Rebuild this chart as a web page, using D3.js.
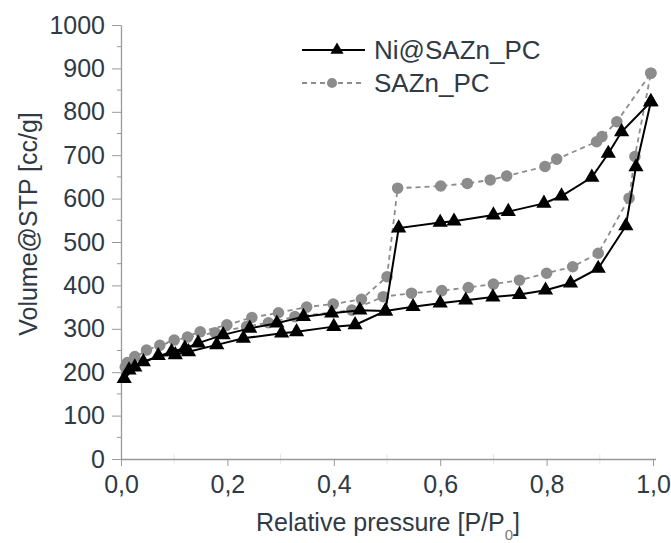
<!DOCTYPE html>
<html>
<head>
  <title>Isotherm</title>
  <script src="https://d3js.org/d3.v7.min.js"></script>
  <style>
    body { margin: 0; background: #fff; }
    text { font-family: "Liberation Sans", Arial, sans-serif; fill: #2f3a45; }
  </style>
</head>
<body>
  <svg id="chart" width="671" height="543"></svg>
  <script>
    // Ni@SAZn_PC, adsorption then desorption branch
    const niAdsP = [0.006, 0.026, 0.07, 0.102, 0.127, 0.18, 0.23, 0.302, 0.33, 0.40, 0.44, 0.497, 0.549, 0.60, 0.648, 0.699, 0.749, 0.798, 0.845, 0.897, 0.949, 0.968, 0.996]
    const niAdsV = [185, 212, 238, 240, 247, 263, 278, 290, 293, 305, 309, 341, 351, 359, 366, 373, 379, 389, 405, 439, 537, 673, 823]
    const niDesP = [0.996, 0.941, 0.916, 0.885, 0.828, 0.795, 0.728, 0.70, 0.626, 0.60, 0.522, 0.497, 0.449, 0.396, 0.343, 0.293, 0.242, 0.192, 0.145, 0.12, 0.095, 0.042, 0.015]
    const niDesV = [823, 754, 704, 649, 606, 589, 570, 562, 548, 545, 532, 341, 343, 336, 328, 313, 301, 286, 267, 255, 247, 224, 205]

    // SAZn_PC
    const saAdsP = [0.008, 0.026, 0.073, 0.125, 0.177, 0.236, 0.277, 0.327, 0.434, 0.493, 0.546, 0.603, 0.653, 0.70, 0.749, 0.80, 0.849, 0.897, 0.955, 0.966, 0.996]
    const saAdsV = [212, 236, 262, 281, 291, 305, 314, 328, 343, 374, 382, 388, 395, 403, 412, 428, 443, 474, 601, 697, 889]
    const saDesP = [0.996, 0.932, 0.904, 0.894, 0.819, 0.797, 0.725, 0.694, 0.651, 0.601, 0.52, 0.50, 0.452, 0.399, 0.349, 0.296, 0.246, 0.199, 0.149, 0.10, 0.048, 0.012]
    const saDesV = [889, 777, 743, 731, 691, 674, 652, 643, 635, 629, 624, 420, 368, 357, 350, 337, 326, 309, 293, 274, 251, 222]

    const xTicks = [0, 0.2, 0.4, 0.6, 0.8, 1.0]
    const yTicks = [0, 100, 200, 300, 400, 500, 600, 700, 800, 900, 1000]

    function pairs(p, v) {
      return p.map((d, i) => ({p: d, v: v[i]}))
    }

    const series = [
      {name: "SAZn_PC", pts: pairs(saAdsP, saAdsV).concat(pairs(saDesP, saDesV)),
       color: "#8c8c8c", dash: "5,4", width: 1.8, symbol: d3.symbolCircle, size: 105},
      {name: "Ni@SAZn_PC", pts: pairs(niAdsP, niAdsV).concat(pairs(niDesP, niDesV)),
       color: "#000", dash: null, width: 2, symbol: d3.symbolTriangle, size: 100}
    ]

    const svg = d3.select("#chart")
    const x = d3.scaleLinear().domain([0, 1]).range([121, 653])
    const y = d3.scaleLinear().domain([0, 1000]).range([459, 25])

    // minor ticks
    svg.append("g").selectAll("line")
      .data(d3.range(50, 1000, 100))
      .enter().append("line")
      .attr("x1", 117).attr("x2", 121)
      .attr("y1", d => y(d)).attr("y2", d => y(d))
      .attr("stroke", "#999")
    svg.append("g").selectAll("line")
      .data([0.1, 0.3, 0.5, 0.7, 0.9])
      .enter().append("line")
      .attr("x1", d => x(d)).attr("x2", d => x(d))
      .attr("y1", 454).attr("y2", 464)
      .attr("stroke", "#e6e6e6")

    const yAxis = svg.append("g")
      .attr("transform", "translate(121,0)")
      .call(d3.axisLeft(y).tickValues(yTicks).tickSize(9).tickSizeOuter(0).tickPadding(7)
        .tickFormat(d3.format("d")))
    yAxis.selectAll("text").style("font-size", "25px")

    const xAxis = svg.append("g")
      .attr("transform", "translate(0,459)")
      .call(d3.axisBottom(x).tickValues(xTicks).tickSize(7).tickSizeOuter(0).tickPadding(9)
        .tickFormat(d => d3.format(".1f")(d).replace(".", ",")))
    xAxis.selectAll("text").style("font-size", "25px")

    svg.selectAll(".domain").attr("stroke", "#999").attr("stroke-width", 1.3)
    svg.selectAll(".tick line").attr("stroke", "#999")
    xAxis.select(".domain").attr("d", "M121,0.5H656")

    const line = d3.line().x(d => x(d.p)).y(d => y(d.v))

    series.forEach(s => {
      svg.append("path")
        .datum(s.pts)
        .attr("d", line)
        .attr("fill", "none")
        .attr("stroke", s.color)
        .attr("stroke-width", s.width)
        .attr("stroke-dasharray", s.dash)
      svg.append("g").selectAll("path")
        .data(s.pts)
        .enter().append("path")
        .attr("transform", d => `translate(${x(d.p)},${y(d.v)})`)
        .attr("d", d3.symbol(s.symbol, s.size))
        .attr("fill", s.color)
    })

    // legend
    const legend = [series[1], series[0]]
    legend.forEach((s, i) => {
      const ly = 50 + i * 33
      svg.append("line")
        .attr("x1", 302).attr("x2", 365).attr("y1", ly).attr("y2", ly)
        .attr("stroke", s.color).attr("stroke-width", s.width)
        .attr("stroke-dasharray", s.dash)
      svg.append("path")
        .attr("transform", `translate(${i == 0 ? 337 : 332},${ly})`)
        .attr("d", d3.symbol(s.symbol, i == 0 ? 75 : 80))
        .attr("fill", s.color)
      svg.append("text")
        .attr("x", 374).attr("y", ly + 9)
        .style("font-size", "26px")
        .text(s.name)
    })

    // axis titles
    svg.append("text")
      .attr("transform", "translate(37,224) rotate(-90)")
      .attr("text-anchor", "middle")
      .style("font-size", "25px")
      .text("Volume@STP [cc/g]")

    const xt = svg.append("text")
      .attr("x", 388).attr("y", 531)
      .attr("text-anchor", "middle")
      .style("font-size", "25px")
    xt.append("tspan").text("Relative pressure [P/P")
    xt.append("tspan").attr("baseline-shift", "sub").style("font-size", "15px").style("fill", "#777").text("0")
    xt.append("tspan").text("]")
  </script>
</body>
</html>
